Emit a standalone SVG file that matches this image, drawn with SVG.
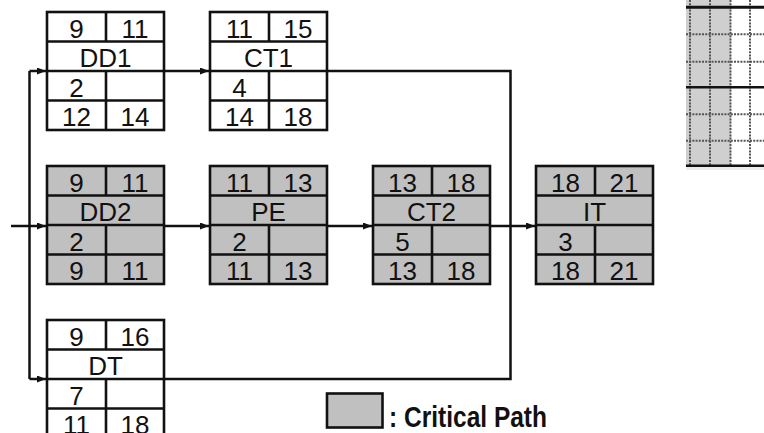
<svg xmlns="http://www.w3.org/2000/svg" xmlns:xlink="http://www.w3.org/1999/xlink" width="764" height="433" viewBox="0 0 764 433">
  <style>
    .frame { stroke: #111; stroke-width: 2.6; }
    .crit { fill: #c0c0c0; }
    .norm { fill: #ffffff; }
    .t { font-family: "Liberation Sans", Arial, sans-serif; font-size: 26px; fill: #111; text-anchor: middle; }
    .wire { fill: none; stroke: #111; stroke-width: 2.5; }
    .grid-solid { stroke: #111; }
    .grid-dot { stroke: #555; stroke-width: 2; stroke-dasharray: 2 1.2; }
    .legend { font-family: "Liberation Sans", Arial, sans-serif; font-weight: bold; font-size: 29px; fill: #111; }
  </style>
  <defs>
    <!-- activity box: ES/EF, name, duration, LS/LF -->
    <g id="box">
      <rect x="0" y="0" width="117" height="118"/>
      <path d="M0,29.5H117M0,59H117M0,88.5H117M59,0V29.5M59,59V118" fill="none"/>
    </g>
    <marker id="arr" markerUnits="userSpaceOnUse" markerWidth="10" markerHeight="8" refX="9" refY="3.5" orient="auto">
      <path d="M0,0 L9,3.5 L0,7 z" fill="#111"/>
    </marker>
  </defs>

  <rect width="764" height="433" fill="#ffffff"/>

  <!-- partial schedule grid, top right -->
  <g id="grid">
    <rect x="686" y="0" width="45" height="166" fill="#cfcfcf"/>
    <rect x="686" y="167" width="78" height="3" fill="#ececec"/>
    <path class="grid-dot" d="M690,0V166M710,0V166M730.5,0V166M750,0V166"/>
    <path class="grid-dot" d="M686,34.3H764M686,61.7H764M686,114.3H764M686,140.7H764"/>
    <path class="grid-solid" stroke-width="3" d="M686,7.3H764"/>
    <path class="grid-solid" stroke-width="2.5" d="M686,87.3H764M686,165.7H764"/>
  </g>

  <!-- connectors -->
  <g id="connectors">
    <path class="wire" d="M11,226H46" marker-end="url(#arr)"/>
    <path class="wire" d="M29.5,71V379"/>
    <path class="wire" d="M29.5,71H46" marker-end="url(#arr)"/>
    <path class="wire" d="M29.5,379H46" marker-end="url(#arr)"/>
    <path class="wire" d="M164,71H209" marker-end="url(#arr)"/>
    <path class="wire" d="M164,226H209" marker-end="url(#arr)"/>
    <path class="wire" d="M327,226H372" marker-end="url(#arr)"/>
    <path class="wire" d="M490,226H535" marker-end="url(#arr)"/>
    <path class="wire" d="M327,71H510.5V379H164"/>
  </g>

  <g id="DD1" transform="translate(47,12)">
    <use xlink:href="#box" class="frame norm"/>
    <text class="t" x="29.5" y="25.5">9</text><text class="t" x="88" y="25.5">11</text>
    <text class="t" x="58.5" y="55">DD1</text>
    <text class="t" x="29.5" y="84.5">2</text>
    <text class="t" x="29.5" y="114">12</text><text class="t" x="88" y="114">14</text>
  </g>

  <g id="CT1" transform="translate(210,12)">
    <use xlink:href="#box" class="frame norm"/>
    <text class="t" x="29.5" y="25.5">11</text><text class="t" x="88" y="25.5">15</text>
    <text class="t" x="58.5" y="55">CT1</text>
    <text class="t" x="29.5" y="84.5">4</text>
    <text class="t" x="29.5" y="114">14</text><text class="t" x="88" y="114">18</text>
  </g>

  <g id="DD2" transform="translate(47,166)">
    <use xlink:href="#box" class="frame crit"/>
    <text class="t" x="29.5" y="25.5">9</text><text class="t" x="88" y="25.5">11</text>
    <text class="t" x="58.5" y="55">DD2</text>
    <text class="t" x="29.5" y="84.5">2</text>
    <text class="t" x="29.5" y="114">9</text><text class="t" x="88" y="114">11</text>
  </g>

  <g id="PE" transform="translate(210,166)">
    <use xlink:href="#box" class="frame crit"/>
    <text class="t" x="29.5" y="25.5">11</text><text class="t" x="88" y="25.5">13</text>
    <text class="t" x="58.5" y="55">PE</text>
    <text class="t" x="29.5" y="84.5">2</text>
    <text class="t" x="29.5" y="114">11</text><text class="t" x="88" y="114">13</text>
  </g>

  <g id="CT2" transform="translate(373,166)">
    <use xlink:href="#box" class="frame crit"/>
    <text class="t" x="29.5" y="25.5">13</text><text class="t" x="88" y="25.5">18</text>
    <text class="t" x="58.5" y="55">CT2</text>
    <text class="t" x="29.5" y="84.5">5</text>
    <text class="t" x="29.5" y="114">13</text><text class="t" x="88" y="114">18</text>
  </g>

  <g id="IT" transform="translate(536,166)">
    <use xlink:href="#box" class="frame crit"/>
    <text class="t" x="29.5" y="25.5">18</text><text class="t" x="88" y="25.5">21</text>
    <text class="t" x="58.5" y="55">IT</text>
    <text class="t" x="29.5" y="84.5">3</text>
    <text class="t" x="29.5" y="114">18</text><text class="t" x="88" y="114">21</text>
  </g>

  <g id="DT" transform="translate(47,320)">
    <use xlink:href="#box" class="frame norm"/>
    <text class="t" x="29.5" y="25.5">9</text><text class="t" x="88" y="25.5">16</text>
    <text class="t" x="58.5" y="55">DT</text>
    <text class="t" x="29.5" y="84.5">7</text>
    <text class="t" x="29.5" y="114">11</text><text class="t" x="88" y="114">18</text>
  </g>

  <!-- legend -->
  <g id="legend">
    <rect x="327" y="393.5" width="55.5" height="34" fill="#c0c0c0" stroke="#111" stroke-width="2.6"/>
    <text class="legend" x="389" y="426.5" textLength="158" lengthAdjust="spacingAndGlyphs">: Critical Path</text>
  </g>
</svg>
